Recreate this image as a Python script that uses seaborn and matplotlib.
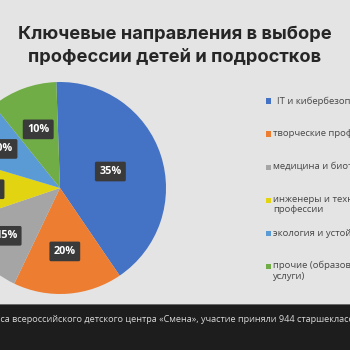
import matplotlib
matplotlib.use("Agg")
import matplotlib.pyplot as plt
import seaborn as sns
import numpy as np
from matplotlib.patches import Rectangle

# ---- data ----
categories = [
    "IT и кибербезопасность",
    "творческие профессии",
    "медицина и биотехнологии",
    "инженеры и технические\nпрофессии",
    "экология и устойчивое развитие",
    "прочие (образование,\nуслуги)",
]
shares = [41.0, 16.6, 12.7, 9.8, 9.6, 10.2]
share_labels = ["35%", "20%", "15%", "10%", "10%", "10%"]
title_lines = ["Ключевые направления в выборе", "профессии детей и подростков"]
footer_text = ("По данным опроса всероссийского детского центра «Смена», "
               "участие приняли 944 старшеклассника")
footer_hidden_prefix = "По данным опро"

# ---- style ----
colors = ["#4472c4", "#ed7d31", "#a5a5a5", "#e3d411", "#5b9bd5", "#70ad47"]
label_radius = [0.50, 0.60, 0.68, 0.67, 0.66, 0.59]
BG = "#e4e4e4"

sns.set_theme(style="white")
plt.rcParams["font.family"] = ["Open Sans", "DejaVu Sans"]
palette = sns.color_palette(colors)

W = H = 350
fig = plt.figure(figsize=(3.5, 3.5), dpi=100, facecolor=BG)

def fx(px):
    return px / W

def fy(py):
    return 1 - py / H

# pie axes: centre (60,188) px, radius 106 px
cx, cy, r = 60, 188, 106
ax = fig.add_axes([fx(cx - r), fy(cy + r), 2 * r / W, 2 * r / H])
ax.set_facecolor(BG)
wedges, texts = ax.pie(
    shares, colors=palette, startangle=92, counterclock=False,
    labels=share_labels, labeldistance=0.6,
    wedgeprops=dict(linewidth=0),
    textprops=dict(color="white", fontsize=7.8, fontweight="bold"),
)
for w, t, rr in zip(wedges, texts, label_radius):
    ang = np.deg2rad((w.theta1 + w.theta2) / 2)
    t.set_position((rr * np.cos(ang), rr * np.sin(ang)))
    t.set_ha("center")
    t.set_va("center")
    t.set_bbox(dict(boxstyle="round,pad=0.4,rounding_size=0.15",
                    fc="#3a3a3a", ec="none"))
ax.set_xlim(-1, 1)
ax.set_ylim(-1, 1)
ax.set_aspect("equal")
ax.axis("off")

# title
for i, line in enumerate(title_lines):
    fig.text(0.5, fy(35 + 22.5 * i), line, ha="center", va="center",
             fontsize=13.2, fontweight="bold", color="#262626",
             family=["Inter", "DejaVu Sans"])

# legend (manual, first line aligned with marker)
for i, (lab, col) in enumerate(zip(categories, palette)):
    y = 101 + 33 * i
    fig.patches.append(Rectangle((fx(265.5), fy(y + 2.7)), 5.2 / W, 5.2 / H,
                                 transform=fig.transFigure, fc=col, ec="none"))
    x0 = 277 if i == 0 else 273
    multi = "\n" in lab
    fig.text(fx(x0), fy(y - 5.5) if multi else fy(y), lab, ha="left",
             va="top" if multi else "center",
             fontsize=6.8, color="#474747", linespacing=1.25)

# footer bar
fig.patches.append(Rectangle((0, 0), 1, 45 / H, transform=fig.transFigure,
                             fc="#1d1d1d", ec="none"))
fig.patches.append(Rectangle((0, 45 / H), 1, 1 / H, transform=fig.transFigure,
                             fc="#6a6a6a", ec="none"))
renderer = fig.canvas.get_renderer()
FOOT_FS = 6.55
tmp = fig.text(0, 0, footer_hidden_prefix, fontsize=FOOT_FS)
pw = tmp.get_window_extent(renderer).width
tmp.remove()
fig.text(fx(-pw + 0.5), fy(320), footer_text, ha="left", va="center",
         fontsize=FOOT_FS, color="#d8d8d8")

fig.savefig("out.png", dpi=100, facecolor=BG)
